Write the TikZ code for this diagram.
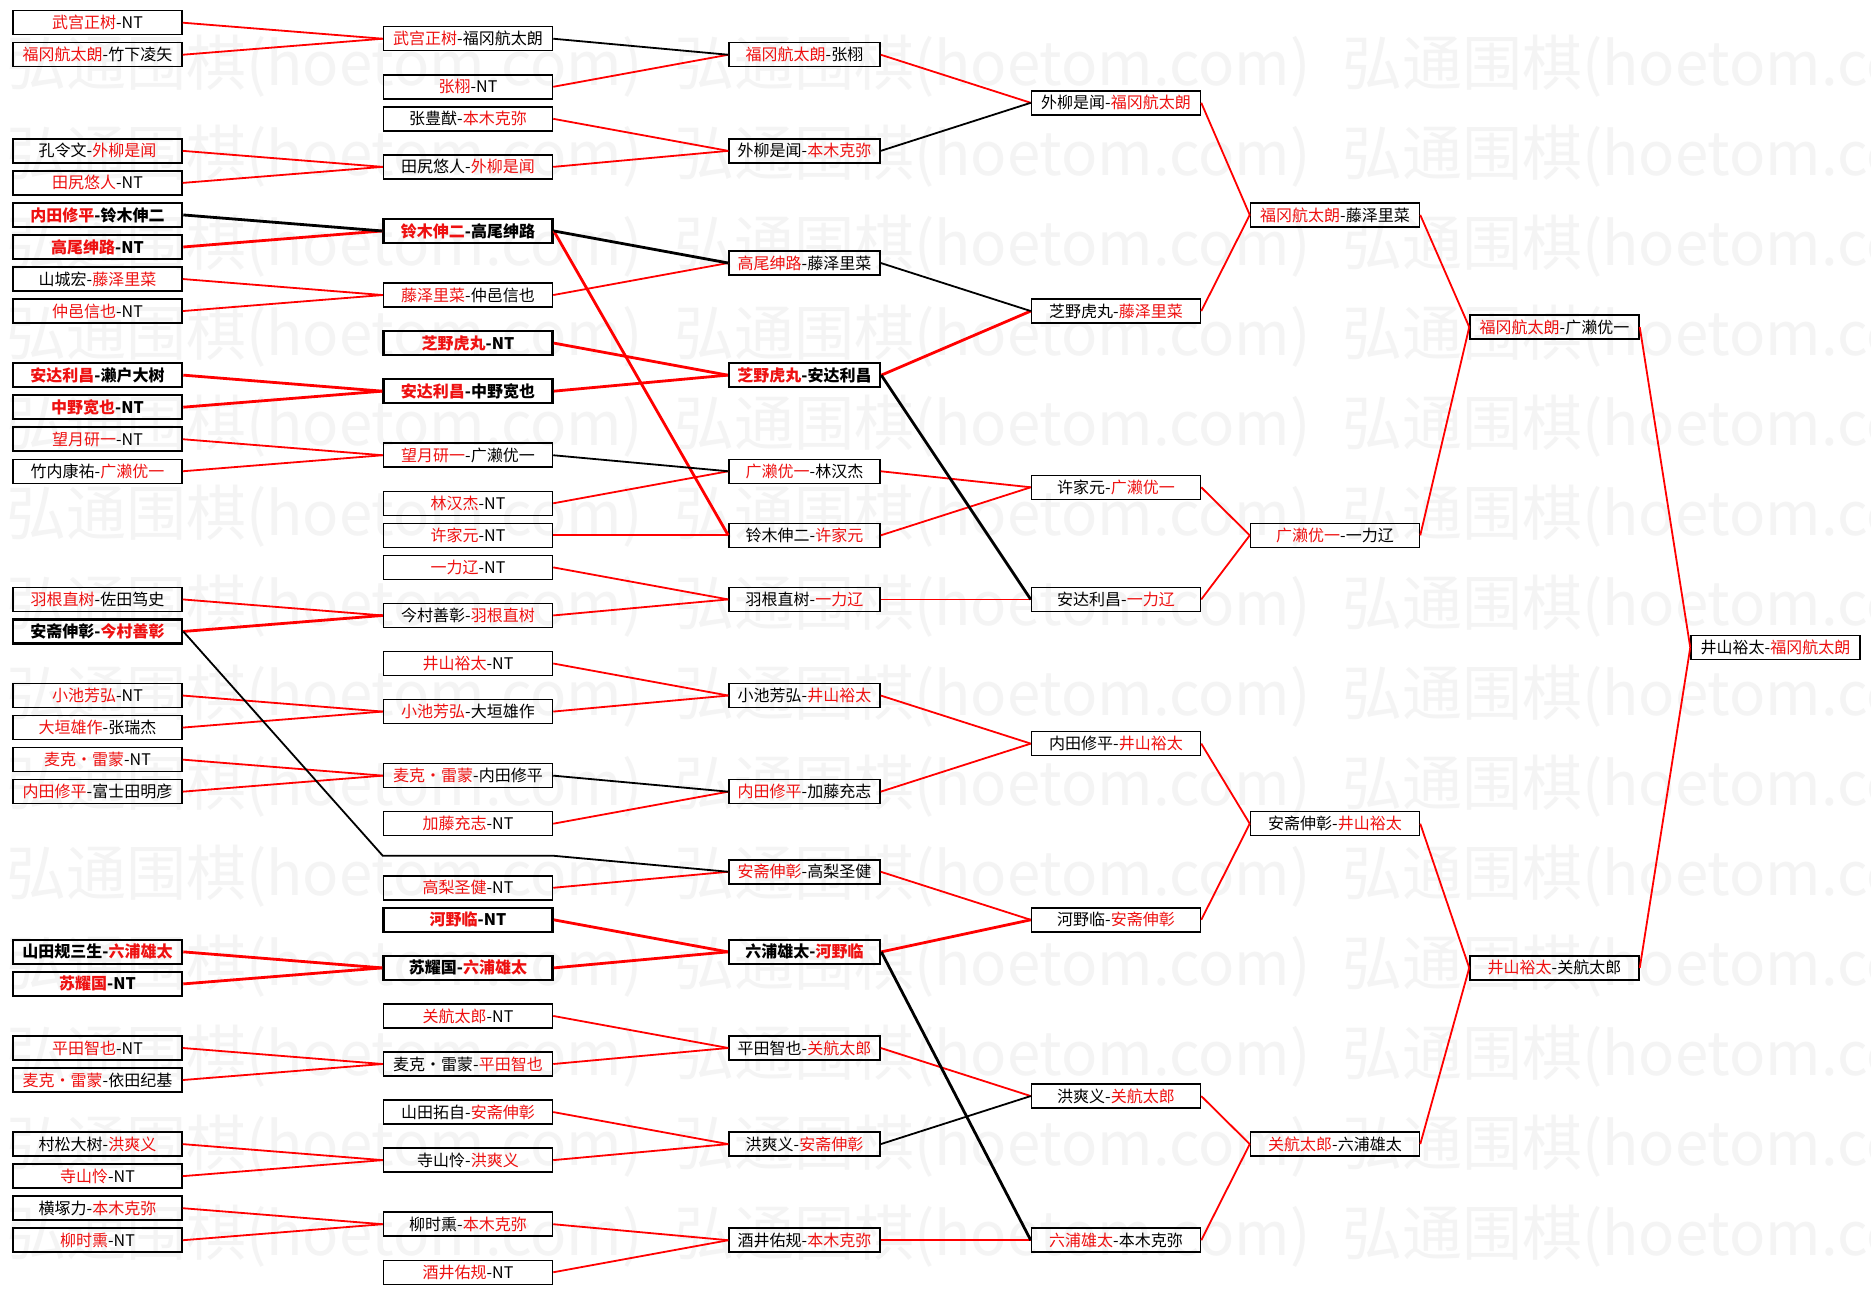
\documentclass[tikz,border=0pt]{standalone}
\usepackage{fontspec}
\setmainfont{Noto Sans CJK SC}
\usepackage{xcolor}
\usepackage{tikz}
\definecolor{winred}{HTML}{FF0000}
\definecolor{wintext}{HTML}{EE1111}
\definecolor{stampgray}{HTML}{F4F4F4}
\newcommand{\wn}[1]{\textcolor{wintext}{#1}}
\tikzstyle{game} = [rectangle, draw=black, line width=1.5pt, minimum width=169pt, minimum height=24pt, inner sep=0pt, text centered, font=\fontsize{16}{18}\selectfont]
\tikzstyle{narrowbox} = [minimum width=151pt]
\tikzstyle{live} = [line width=2.6pt, font=\fontsize{16}{18}\selectfont\bfseries]
\tikzstyle{ghost} = [draw=none]
\tikzstyle{won} = [line width=1.8pt, color=winred]
\tikzstyle{lost} = [line width=1.8pt, color=black]
\tikzstyle{heavy} = [line width=2.8pt]
\tikzstyle{stamp} = [anchor=west, inner sep=0pt, text=stampgray, font=\fontsize{60}{60}\selectfont]

\begin{document}
\begin{tikzpicture}[x=1pt, y=-32.04pt]
    \fill[white] (0,-0.7085) rectangle (1871,39.647);
    \useasboundingbox (0,-0.7085) rectangle (1871,39.647);
    % watermark rows
    \foreach \k in {0,...,13} {
        \foreach \j in {0,1,2} {
            \node[stamp] (wm-\k-\j) at ({6+668*\j}, {1.3514+2.809*\k}) {弘通围棋(hoetom.com)};
        }
    }

    % round 1
    \node[game] (a1) at (97.5,0) {\wn{武宫正树}-NT};
    \node[game] (a2) at (97.5,1) {\wn{福冈航太朗}-竹下凌矢};
    \node[game] (a3) at (97.5,4) {孔令文-\wn{外柳是闻}};
    \node[game] (a4) at (97.5,5) {\wn{田尻悠人}-NT};
    \node[game, live] (a5) at (97.5,6) {\wn{内田修平}-铃木伸二};
    \node[game, live] (a6) at (97.5,7) {\wn{高尾绅路}-NT};
    \node[game] (a7) at (97.5,8) {山城宏-\wn{藤泽里菜}};
    \node[game] (a8) at (97.5,9) {\wn{仲邑信也}-NT};
    \node[game, live] (a9) at (97.5,11) {\wn{安达利昌}-濑户大树};
    \node[game, live] (a10) at (97.5,12) {\wn{中野宽也}-NT};
    \node[game] (a11) at (97.5,13) {\wn{望月研一}-NT};
    \node[game] (a12) at (97.5,14) {竹内康祐-\wn{广濑优一}};
    \node[game] (a13) at (97.5,18) {\wn{羽根直树}-佐田笃史};
    \node[game, live] (a14) at (97.5,19) {安斋伸彰-\wn{今村善彰}};
    \node[game] (a15) at (97.5,21) {\wn{小池芳弘}-NT};
    \node[game] (a16) at (97.5,22) {\wn{大垣雄作}-张瑞杰};
    \node[game] (a17) at (97.5,23) {\wn{麦克・雷蒙}-NT};
    \node[game] (a18) at (97.5,24) {\wn{内田修平}-富士田明彦};
    \node[game, live] (a19) at (97.5,29) {山田规三生-\wn{六浦雄太}};
    \node[game, live] (a20) at (97.5,30) {\wn{苏耀国}-NT};
    \node[game] (a21) at (97.5,32) {\wn{平田智也}-NT};
    \node[game] (a22) at (97.5,33) {\wn{麦克・雷蒙}-依田纪基};
    \node[game] (a23) at (97.5,35) {村松大树-\wn{洪爽义}};
    \node[game] (a24) at (97.5,36) {\wn{寺山怜}-NT};
    \node[game] (a25) at (97.5,37) {横塚力-\wn{本木克弥}};
    \node[game] (a26) at (97.5,38) {\wn{柳时熏}-NT};

    % round 2
    \node[game] (b1) at (468,0.5) {\wn{武宫正树}-福冈航太朗};
    \node[game] (b2) at (468,2) {\wn{张栩}-NT};
    \node[game] (b3) at (468,3) {张豊猷-\wn{本木克弥}};
    \node[game] (b4) at (468,4.5) {田尻悠人-\wn{外柳是闻}};
    \node[game, live] (b5) at (468,6.5) {\wn{铃木伸二}-高尾绅路};
    \node[game] (b6) at (468,8.5) {\wn{藤泽里菜}-仲邑信也};
    \node[game, live] (b7) at (468,10) {\wn{芝野虎丸}-NT};
    \node[game, live] (b8) at (468,11.5) {\wn{安达利昌}-中野宽也};
    \node[game] (b9) at (468,13.5) {\wn{望月研一}-广濑优一};
    \node[game] (b10) at (468,15) {\wn{林汉杰}-NT};
    \node[game] (b11) at (468,16) {\wn{许家元}-NT};
    \node[game] (b12) at (468,17) {\wn{一力辽}-NT};
    \node[game] (b13) at (468,18.5) {今村善彰-\wn{羽根直树}};
    \node[game] (b14) at (468,20) {\wn{井山裕太}-NT};
    \node[game] (b15) at (468,21.5) {\wn{小池芳弘}-大垣雄作};
    \node[game] (b16) at (468,23.5) {\wn{麦克・雷蒙}-内田修平};
    \node[game] (b17) at (468,25) {\wn{加藤充志}-NT};
    \node[game, ghost] (b18) at (468,26) {};
    \node[game] (b19) at (468,27) {\wn{高梨圣健}-NT};
    \node[game, live] (b20) at (468,28) {\wn{河野临}-NT};
    \node[game, live] (b21) at (468,29.5) {苏耀国-\wn{六浦雄太}};
    \node[game] (b22) at (468,31) {\wn{关航太郎}-NT};
    \node[game] (b23) at (468,32.5) {麦克・雷蒙-\wn{平田智也}};
    \node[game] (b24) at (468,34) {山田拓自-\wn{安斋伸彰}};
    \node[game] (b25) at (468,35.5) {寺山怜-\wn{洪爽义}};
    \node[game] (b26) at (468,37.5) {柳时熏-\wn{本木克弥}};
    \node[game] (b27) at (468,39) {\wn{酒井佑规}-NT};

    % round 3
    \node[game, narrowbox] (c1) at (804.5,1) {\wn{福冈航太朗}-张栩};
    \node[game, narrowbox] (c2) at (804.5,4) {外柳是闻-\wn{本木克弥}};
    \node[game, narrowbox] (c3) at (804.5,7.5) {\wn{高尾绅路}-藤泽里菜};
    \node[game, narrowbox, live] (c4) at (804.5,11) {\wn{芝野虎丸}-安达利昌};
    \node[game, narrowbox] (c5) at (804.5,14) {\wn{广濑优一}-林汉杰};
    \node[game, narrowbox] (c6) at (804.5,16) {铃木伸二-\wn{许家元}};
    \node[game, narrowbox] (c7) at (804.5,18) {羽根直树-\wn{一力辽}};
    \node[game, narrowbox] (c8) at (804.5,21) {小池芳弘-\wn{井山裕太}};
    \node[game, narrowbox] (c9) at (804.5,24) {\wn{内田修平}-加藤充志};
    \node[game, narrowbox] (c10) at (804.5,26.5) {\wn{安斋伸彰}-高梨圣健};
    \node[game, narrowbox, live] (c11) at (804.5,29) {六浦雄太-\wn{河野临}};
    \node[game, narrowbox] (c12) at (804.5,32) {平田智也-\wn{关航太郎}};
    \node[game, narrowbox] (c13) at (804.5,35) {洪爽义-\wn{安斋伸彰}};
    \node[game, narrowbox] (c14) at (804.5,38) {酒井佑规-\wn{本木克弥}};

    % round 4
    \node[game] (d1) at (1116,2.5) {外柳是闻-\wn{福冈航太朗}};
    \node[game] (d2) at (1116,9) {芝野虎丸-\wn{藤泽里菜}};
    \node[game] (d3) at (1116,14.5) {许家元-\wn{广濑优一}};
    \node[game] (d4) at (1116,18) {安达利昌-\wn{一力辽}};
    \node[game] (d5) at (1116,22.5) {内田修平-\wn{井山裕太}};
    \node[game] (d6) at (1116,28) {河野临-\wn{安斋伸彰}};
    \node[game] (d7) at (1116,33.5) {洪爽义-\wn{关航太郎}};
    \node[game] (d8) at (1116,38) {\wn{六浦雄太}-本木克弥};

    % rounds 5 to 7
    \node[game] (e1) at (1335,6) {\wn{福冈航太朗}-藤泽里菜};
    \node[game] (e2) at (1335,16) {\wn{广濑优一}-一力辽};
    \node[game] (e3) at (1335,25) {安斋伸彰-\wn{井山裕太}};
    \node[game] (e4) at (1335,35) {\wn{关航太郎}-六浦雄太};
    \node[game] (f1) at (1554.5,9.5) {\wn{福冈航太朗}-广濑优一};
    \node[game] (f2) at (1554.5,29.5) {\wn{井山裕太}-关航太郎};
    \node[game] (g1) at (1775.5,19.5) {井山裕太-\wn{福冈航太朗}};

    % winners
    \foreach \s/\t in {a1/b1, a2/b1, a3/b4, a4/b4, a7/b6, a8/b6, a11/b9, a12/b9,
        a13/b13, a15/b15, a16/b15, a17/b16, a18/b16, a21/b23, a22/b23, a23/b25,
        a24/b25, a25/b26, a26/b26, b2/c1, b3/c2, b4/c2, b6/c3, b10/c5, b11/c6,
        b12/c7, b13/c7, b14/c8, b15/c8, b17/c9, b19/c10, b22/c12, b23/c12,
        b24/c13, b25/c13, b26/c14, b27/c14, c1/d1, c5/d3, c6/d3, c7/d4, c8/d5,
        c9/d5, c10/d6, c12/d7, c14/d8, d1/e1, d2/e1, d3/e2, d4/e2, d5/e3,
        d6/e3, d7/e4, d8/e4, e1/f1, e2/f1, e3/f2, e4/f2, f1/g1, f2/g1}
        \draw[won] (\s.east) -- (\t.west);
    \foreach \s/\t in {a6/b5, a9/b8, a10/b8, a14/b13, a19/b21, a20/b21, b5/c6,
        b7/c4, b8/c4, b20/c11, b21/c11, c4/d2, c11/d6}
        \draw[won, heavy] (\s.east) -- (\t.west);

    % losers
    \foreach \s/\t in {b1/c1, b9/c5, b16/c9, c2/d1, c3/d2, c13/d7}
        \draw[lost] (\s.east) -- (\t.west);
    \foreach \s/\t in {a5/b5, b5/c3, c4/d4, c11/d8}
        \draw[lost, heavy] (\s.east) -- (\t.west);
    \draw[lost] (a14.east) -- (b18.west) -- (b18.east) -- (c10.west);
\end{tikzpicture}
\end{document}
